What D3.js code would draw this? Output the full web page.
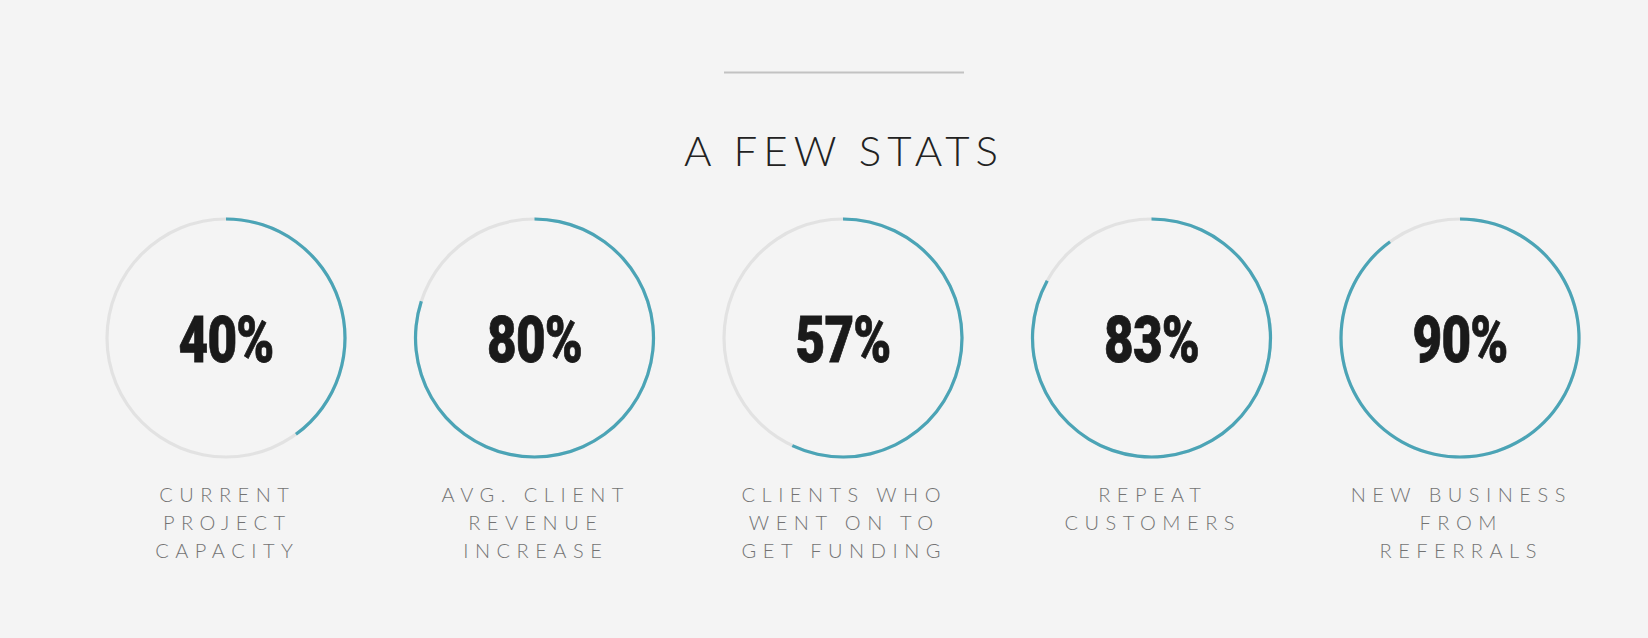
<!DOCTYPE html>
<html>
<head>
<meta charset="utf-8">
<script src="https://cdn.jsdelivr.net/npm/d3@7"></script>
<style>
  html, body { margin: 0; padding: 0; background: #f4f4f4; }
  svg { display: block; }
</style>
</head>
<body>
<svg id="chart" width="1648" height="638"></svg>
<script>
const title = "A FEW STATS";
const categories = ["current", "revenue", "funding", "repeat", "referrals"];
const values = [40, 80, 57, 83, 90];
const labels = [
  ["CURRENT", "PROJECT", "CAPACITY"],
  ["AVG. CLIENT", "REVENUE", "INCREASE"],
  ["CLIENTS WHO", "WENT ON TO", "GET FUNDING"],
  ["REPEAT", "CUSTOMERS"],
  ["NEW BUSINESS", "FROM", "REFERRALS"]
];

const W = 1648, H = 638;
const svg = d3.select("#chart");
svg.append("rect").attr("width", W).attr("height", H).attr("fill", "#f4f4f4");

// divider line
svg.append("line")
  .attr("x1", 724).attr("x2", 964).attr("y1", 72.5).attr("y2", 72.5)
  .attr("stroke", "#c2c2c2").attr("stroke-width", 2);

// title
const titleSpacing = 6;
svg.append("text")
  .attr("x", 841 + titleSpacing / 2).attr("y", 166)
  .attr("text-anchor", "middle")
  .style("font-family", "Lato, 'Open Sans', sans-serif")
  .style("font-weight", 300)
  .style("font-size", "42px")
  .style("letter-spacing", titleSpacing + "px")
  .attr("fill", "#222")
  .text(title);

const x = d3.scalePoint().domain(categories).range([226, 1460]);
const angle = d3.scaleLinear().domain([0, 100]).range([0, 2 * Math.PI]);
const cy = 338;
const r = 119, sw = 3.2;
const arc = d3.arc().innerRadius(r - sw / 2).outerRadius(r + sw / 2);

const g = svg.selectAll("g.stat").data(categories).join("g")
  .attr("class", "stat")
  .attr("transform", d => `translate(${x(d)},${cy})`);

g.append("path")
  .attr("d", arc({startAngle: 0, endAngle: 2 * Math.PI}))
  .attr("fill", "#e2e2e2");

g.append("path")
  .attr("d", (d, i) => arc({startAngle: 0, endAngle: angle(values[i])}))
  .attr("fill", "#4ba4b6");

g.append("text")
  .attr("text-anchor", "middle")
  .attr("transform", "translate(0,24) scale(0.8,1)")
  .style("font-family", "Roboto, sans-serif")
  .style("font-weight", 900)
  .style("font-size", "64px")
  .style("letter-spacing", "-1px")
  .attr("fill", "#1a1a1a")
  .attr("stroke", "#1a1a1a")
  .attr("stroke-width", 0.8)
  .text((d, i) => values[i] + "%");

const labSpacing = 6.5;
g.each(function(d, i) {
  const t = d3.select(this).append("text")
    .attr("text-anchor", "middle")
    .style("font-family", "Lato, 'Open Sans', sans-serif")
    .style("font-weight", 300)
    .style("font-size", "20px")
    .style("letter-spacing", labSpacing + "px")
    .attr("fill", "#737373");
  labels[i].forEach((line, j) => {
    t.append("tspan")
      .attr("x", labSpacing / 2 - 2)
      .attr("y", 502 - cy + j * 28)
      .text(line);
  });
});
</script>
</body>
</html>
